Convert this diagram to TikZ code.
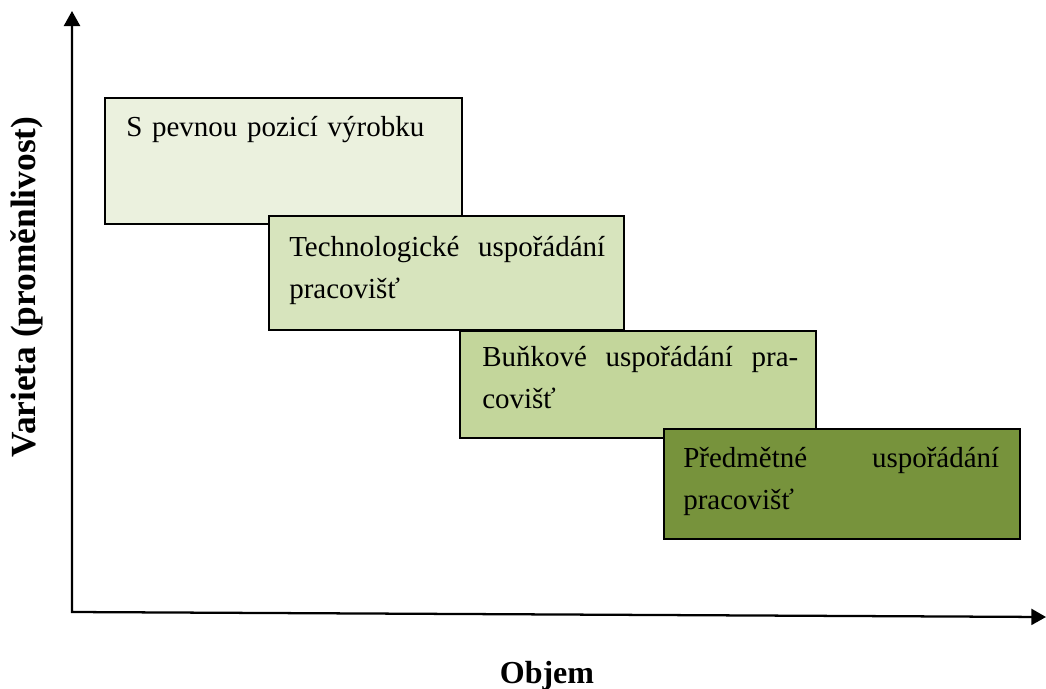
\documentclass[tikz,border=0pt]{standalone}
\usepackage{fontspec}
\setmainfont{Liberation Serif}
\usetikzlibrary{arrows.meta,calc}
\definecolor{gA}{HTML}{EBF1DE}
\definecolor{gB}{HTML}{D7E4BD}
\definecolor{gC}{HTML}{C3D69B}
\definecolor{gD}{HTML}{77933C}
\newcommand\toprl{\rule{0pt}{22pt}}
\newcommand\jline[1]{\hbox to 237pt{#1}}
\tikzset{
  box/.style={draw=black, line width=1.5pt, rectangle, inner sep=0pt, anchor=north west},
  txt/.style={anchor=north west, inner sep=0pt, text width=237pt, align=left,
    font=\fontsize{21.75pt}{31.5pt}\selectfont},
  lab/.style={inner sep=0pt, font=\fontsize{24pt}{28pt}\selectfont\bfseries},
  axis/.style={line width=1.7pt, line join=miter,
    {Triangle[length=11.25pt,width=12pt]}-{Triangle[length=11pt,width=12pt]}}
}
\begin{document}
\begin{tikzpicture}[x=0.75pt,y=-0.75pt]
\useasboundingbox (0,0) rectangle (1046,689);
% axes
\coordinate (ytop) at (72,11);
\coordinate (O) at (72,612);
\coordinate (xend) at (1046,617);
\draw[axis] (ytop) -- (O) -- (xend);
% boxes
\node[box, fill=gA, minimum width=267.75pt, minimum height=94.5pt] (b1) at (104,97) {};
\node[box, fill=gB, minimum width=266.25pt, minimum height=85.5pt] (b2) at (268,215) {};
\node[box, fill=gC, minimum width=267pt, minimum height=80.25pt] (b3) at (459,330) {};
\node[box, fill=gD, minimum width=267pt, minimum height=82.5pt] (b4) at (663,428) {};
% texts (baseline of first line = anchor y + 22pt)
\node[txt] (t1) at ($(126,136)+(0,22pt)$) {\toprl S pevnou pozicí výrobku};
\node[txt] (t2) at ($(289,256)+(0,22pt)$) {\jline{\toprl Technologické\hfill uspořádání}\\pracovišť};
\node[txt] (t3) at ($(482,366)+(0,22pt)$) {\jline{\toprl Buňkové\hfill uspořádání\hfill pra-}\\covišť};
\node[txt] (t4) at ($(683,467)+(0,22pt)$) {\jline{\toprl Předmětné\hfill uspořádání}\\pracovišť};
% axis labels
\node[lab, rotate=90, font=\fontsize{26.5pt}{30pt}\selectfont\bfseries] (ylab) at (27,287) {Varieta (proměnlivost)};
\node[lab, anchor=base] (xlab) at (547,683) {Objem};
\end{tikzpicture}
\end{document}
